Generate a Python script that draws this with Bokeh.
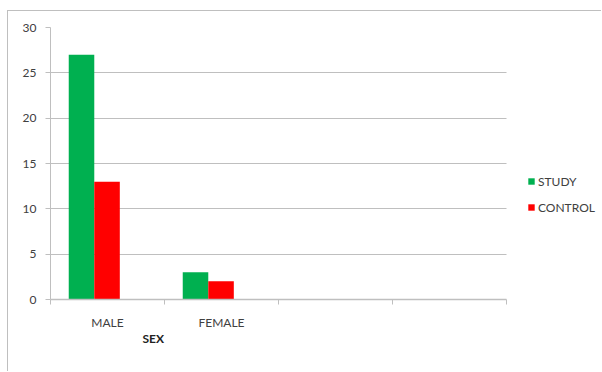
from bokeh.plotting import figure
from bokeh.models import Range1d, FixedTicker, Legend, LegendItem, Title
from bokeh.embed import file_html
from bokeh.resources import INLINE

categories = ["MALE", "FEMALE", "", ""]
series_names = ["STUDY", "CONTROL"]
study = [27, 3]
control = [13, 2]
y_ticks = [0, 5, 10, 15, 20, 25, 30]
axis_title = "SEX"

GREEN = "#00b050"
RED = "#ff0000"
GREY = "#bfbfbf"
TEXT = "#404040"
FONT = "Lato"

n_cat = len(categories)
# extra room on the right of the category area holds the legend
x_end = n_cat * 552 / 456

p = figure(width=594, height=361, output_backend="svg", toolbar_location=None,
           x_range=Range1d(0, x_end), y_range=Range1d(0, 30),
           min_border_left=42, min_border_right=0, min_border_top=16, min_border_bottom=73)
p.margin = (10, 0, 0, 7)
p.styles = {"border-left": "1px solid #bfbfbf", "border-top": "1px solid #bfbfbf"}
p.outline_line_color = None
p.background_fill_color = "white"
p.border_fill_color = "white"

n = len(study)
bar_w = 0.224
xs_study = [i + 0.272 for i in range(n)]
xs_control = [i + 0.496 for i in range(n)]

# grid lines limited to the category area
if hasattr(p.ygrid[0], "cross_bounds"):
    p.ygrid.ticker = FixedTicker(ticks=y_ticks)
    p.ygrid.grid_line_color = GREY
    p.ygrid.cross_bounds = (0, n_cat)
else:
    p.ygrid.grid_line_color = None
    p.segment(x0=[0] * len(y_ticks), x1=[n_cat] * len(y_ticks), y0=y_ticks, y1=y_ticks,
              line_color=GREY, line_width=1)
p.xgrid.grid_line_color = None

r1 = p.vbar(x=xs_study, top=study, width=bar_w, fill_color=GREEN, line_color=None)
r2 = p.vbar(x=xs_control, top=control, width=bar_w, fill_color=RED, line_color=None)

# y axis
p.yaxis.ticker = FixedTicker(ticks=y_ticks)
p.yaxis.axis_line_color = GREY
p.yaxis.major_tick_line_color = GREY
p.yaxis.major_tick_out = 5
p.yaxis.major_tick_in = 0
p.yaxis.minor_tick_line_color = None
p.yaxis.major_label_standoff = 9
p.yaxis.major_label_text_font = FONT
p.yaxis.major_label_text_font_size = "12px"
p.yaxis.major_label_text_color = TEXT

# x axis
p.xaxis.bounds = (0, n_cat)
p.xaxis.ticker = FixedTicker(ticks=[i + 0.5 for i in range(n_cat)],
                             minor_ticks=list(range(n_cat + 1)))
p.xaxis.major_label_overrides = {i + 0.5: c for i, c in enumerate(categories)}
p.xaxis.axis_line_color = GREY
p.xaxis.axis_line_width = 1.5
p.xaxis.major_tick_line_color = None
p.xaxis.major_tick_out = 0
p.xaxis.major_tick_in = 0
p.xaxis.minor_tick_line_color = GREY
p.xaxis.minor_tick_out = 5
p.xaxis.minor_tick_in = 0
p.xaxis.major_label_standoff = 10
p.xaxis.major_label_text_font = FONT
p.xaxis.major_label_text_font_size = "12px"
p.xaxis.major_label_text_color = TEXT

t = Title(text=axis_title, align="left", offset=92, text_font=FONT, text_font_size="12px",
          text_font_style="bold", text_color="#222222", standoff=-7)
p.add_layout(t, "below")

legend = Legend(items=[LegendItem(label=series_names[0], renderers=[r1]),
                       LegendItem(label=series_names[1], renderers=[r2])],
                location=(477, 82), orientation="vertical")
legend.border_line_color = None
legend.background_fill_alpha = 0
legend.padding = 0
legend.margin = 0
legend.spacing = 6
legend.glyph_width = 8
legend.glyph_height = 8
legend.label_height = 20
legend.label_standoff = 3
legend.label_text_font = FONT
legend.label_text_font_size = "12px"
legend.label_text_color = TEXT
p.add_layout(legend, "center")

open("out.html", "w").write(file_html(p, INLINE))
